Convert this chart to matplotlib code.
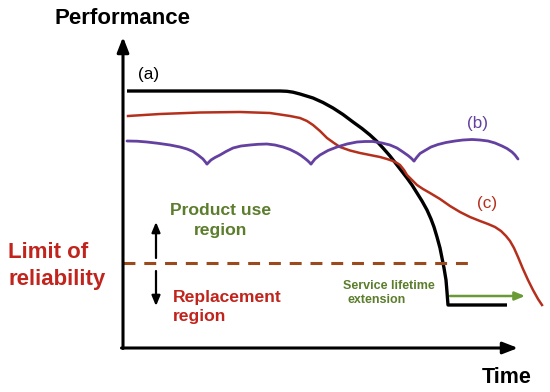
import matplotlib
matplotlib.use("Agg")
import matplotlib.pyplot as plt

plt.rcParams['font.family'] = ['Liberation Sans', 'DejaVu Sans']

# ---- data (schematic curves, canvas units, y downwards) ----
curve_a_x = [127, 280, 287, 293, 300, 313, 323, 333, 343, 353, 362, 370, 377, 383, 390, 397, 402, 407, 412, 417,
             422, 427, 431, 434, 437, 440, 442, 444, 446, 447, 448, 507]
curve_a_y = [91, 91, 91.3, 92.2, 94, 98, 102.5, 108, 114.5, 122, 128.5, 135, 141.5, 148, 156, 165, 171.5, 178, 185, 193,
             201, 210, 219, 227, 237, 248, 258, 268, 280, 292, 305, 305]

curve_c_x = [128, 160, 200, 240, 270, 280, 290, 300, 307, 313, 320, 327, 334, 340, 350, 360, 370, 380, 387,
             393, 397, 400, 404, 407, 412, 417, 423, 430, 440, 450, 460, 470, 480, 488, 495, 501, 506, 510,
             514, 518, 523, 528, 533, 538, 542]
curve_c_y = [116, 114, 112.5, 112, 113, 114.5, 116, 118, 121, 125, 131, 138, 143, 147, 150.5, 153, 155, 157, 159,
             161, 163, 165, 170, 175, 180, 185, 189, 193, 199, 206, 212, 217, 221, 224, 227, 231, 236, 241,
             248, 257, 269, 280, 290, 299, 305]

curve_b_arcs_x = [
    [127, 137, 147, 158, 170, 180, 187, 193, 198, 203, 207],
    [207, 211, 215, 220, 226, 233, 241, 250, 258, 267, 275, 283, 290, 297, 301, 305, 308, 311],
    [311, 315, 320, 328, 337, 347, 357, 365, 373, 382, 390, 397, 403, 408, 411, 414],
    [414, 417, 420, 425, 431, 438, 446, 455, 463, 472, 480, 488, 495, 502, 507, 512, 515, 518],
]
curve_b_arcs_y = [
    [141, 141.2, 142, 143.3, 145, 147, 149, 151.5, 155, 159, 164],
    [164, 160, 157.5, 155, 151.5, 148, 146, 145, 144.3, 144, 145, 147, 149.5, 153, 155.5, 158.5, 161, 164],
    [164, 159, 155, 150.5, 147, 144, 142, 141.5, 141.5, 143, 145, 148, 152, 155.5, 158, 161],
    [161, 157, 153.5, 150.5, 147, 144.5, 142.5, 141, 140, 139.5, 140, 141, 143, 146, 148.5, 152, 155, 159],
]

limit_y = 263
limit_x = [123, 470]

labels = ["(a)", "(b)", "(c)"]
label_x = [149, 478, 487]
label_y = [74, 123, 203]

BLACK = "#000000"
RED_CURVE = "#b5301c"
PURPLE = "#6440a0"
BROWN = "#9a4a1c"
GREEN = "#5b7d2c"
RED_TEXT = "#c0241c"

fig = plt.figure(figsize=(5.5, 3.92), dpi=100)
ax = fig.add_axes([0, 0, 1, 1])
ax.set_xlim(0, 550)
ax.set_ylim(392, 0)
ax.axis('off')

# axes arrows
ax.annotate('', xy=(123, 37), xytext=(123, 348.5),
            arrowprops=dict(arrowstyle='-|>,head_length=0.9,head_width=0.35', lw=2.2,
                            color=BLACK, shrinkA=0, shrinkB=0))
ax.annotate('', xy=(518, 348), xytext=(121.5, 348),
            arrowprops=dict(arrowstyle='-|>,head_length=0.9,head_width=0.35', lw=2.2,
                            color=BLACK, shrinkA=0, shrinkB=0))

# curves
ax.plot(curve_a_x, curve_a_y, color=BLACK, lw=2.4, solid_joinstyle='round', solid_capstyle='butt')
ax.plot(curve_c_x, curve_c_y, color=RED_CURVE, lw=1.8, solid_joinstyle='round')
for xs, ys in zip(curve_b_arcs_x, curve_b_arcs_y):
    ax.plot(xs, ys, color=PURPLE, lw=2.0, solid_joinstyle='round', solid_capstyle='round')

# limit of reliability dashed line
ln, = ax.plot(limit_x, [limit_y, limit_y], color=BROWN, lw=2.2)
ln.set_dashes((3.9, 2.9))

# small up/down arrows
ax.annotate('', xy=(156, 222), xytext=(156, 258),
            arrowprops=dict(arrowstyle='-|>,head_length=0.6,head_width=0.25', lw=1.6,
                            color=BLACK, shrinkA=0, shrinkB=0))
ax.annotate('', xy=(156, 306), xytext=(156, 271),
            arrowprops=dict(arrowstyle='-|>,head_length=0.6,head_width=0.25', lw=1.6,
                            color=BLACK, shrinkA=0, shrinkB=0))

# service lifetime extension arrow
ax.annotate('', xy=(525, 296), xytext=(450, 296),
            arrowprops=dict(arrowstyle='-|>,head_length=0.6,head_width=0.25', lw=1.8,
                            color="#6a9a35", shrinkA=0, shrinkB=0))

# texts
ax.text(123, 24, "Performance", ha='center', va='baseline', fontsize=16, fontweight='bold', color=BLACK)
ax.text(507, 383, "Time", ha='center', va='baseline', fontsize=15.5, fontweight='bold', color=BLACK)

label_colors = [BLACK, PURPLE, RED_CURVE]
for t, x, y, c in zip(labels, label_x, label_y, label_colors):
    ax.text(x, y, t, ha='center', va='center', fontsize=12.3, color=c)

ax.text(8, 258, "Limit of", ha='left', va='baseline', fontsize=16, fontweight='bold', color=RED_TEXT)
ax.text(8, 285, "reliability", ha='left', va='baseline', fontsize=16, fontweight='bold', color=RED_TEXT)

ax.text(221, 215, "Product use", ha='center', va='baseline', fontsize=12.6, fontweight='bold', color=GREEN)
ax.text(221, 235, "region", ha='center', va='baseline', fontsize=12.6, fontweight='bold', color=GREEN)

ax.text(173, 302, "Replacement", ha='left', va='baseline', fontsize=12.6, fontweight='bold', color=RED_TEXT)
ax.text(173, 321, "region", ha='left', va='baseline', fontsize=12.6, fontweight='bold', color=RED_TEXT)

ax.text(343, 289, "Service lifetime", ha='left', va='baseline', fontsize=9, fontweight='bold', color=GREEN)
ax.text(348, 303, "extension", ha='left', va='baseline', fontsize=9, fontweight='bold', color=GREEN)

fig.savefig("out.png", dpi=100)
